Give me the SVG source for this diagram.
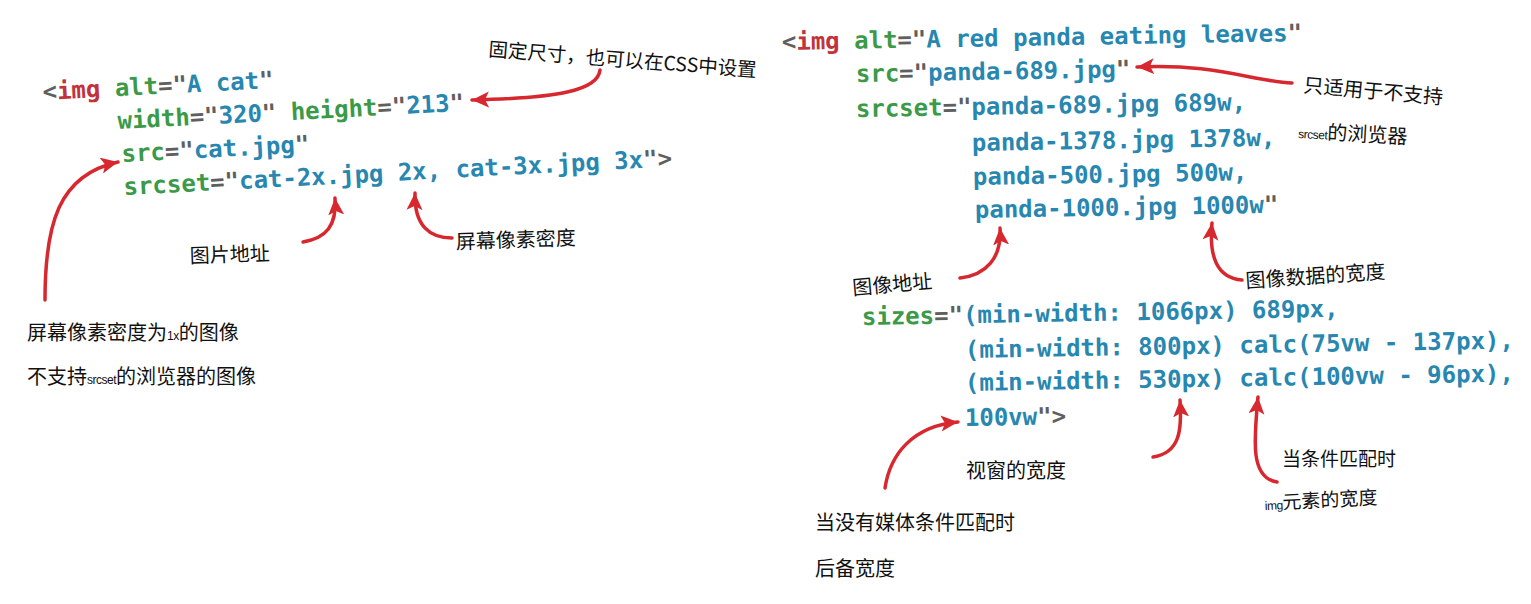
<svg xmlns="http://www.w3.org/2000/svg" width="1531" height="604" viewBox="0 0 1531 604">
<defs>
<style>
.code{font-family:"DejaVu Sans Mono","Liberation Mono",monospace;font-weight:bold;font-size:24px;}
.g{fill:#5f5f5f}.r{fill:#c2323a}.gr{fill:#3b9a48}.b{fill:#2787b0}
.lbl{font-family:"Noto Sans CJK SC","Noto Sans",sans-serif;font-size:20px;fill:#111;}
.sm{font-family:"Liberation Sans Narrow","Liberation Sans",sans-serif;font-size:12px;letter-spacing:-0.5px;}
.arrow{fill:none;stroke:#d6282e;stroke-width:3.5;stroke-linecap:round;marker-end:url(#ah);}
</style>
<marker id="ah" markerUnits="userSpaceOnUse" markerWidth="20" markerHeight="18" refX="17" refY="8" orient="auto">
<path d="M0,0 L17,8 L0,16 L4,8 Z" fill="#d6282e"/>
</marker>
</defs>
<rect width="1531" height="604" fill="#ffffff"/>

<g id="code-cat" class="code">
<text x="43" y="100" transform="rotate(-3 43 100)"><tspan class="g">&lt;</tspan><tspan class="r">img</tspan> <tspan class="gr">alt</tspan><tspan class="g">="</tspan><tspan class="b">A cat</tspan><tspan class="g">"</tspan></text>
<text x="118" y="129" transform="rotate(-3 118 129)"><tspan class="gr">width</tspan><tspan class="g">="</tspan><tspan class="b">320</tspan><tspan class="g">"</tspan> <tspan class="gr">height</tspan><tspan class="g">="</tspan><tspan class="b">213</tspan><tspan class="g">"</tspan></text>
<text x="122" y="162" transform="rotate(-3 122 162)"><tspan class="gr">src</tspan><tspan class="g">="</tspan><tspan class="b">cat.jpg</tspan><tspan class="g">"</tspan></text>
<text x="124" y="195" transform="rotate(-3 124 195)"><tspan class="gr">srcset</tspan><tspan class="g">="</tspan><tspan class="b">cat-2x.jpg 2x, cat-3x.jpg 3x</tspan><tspan class="g">"&gt;</tspan></text>
</g>

<g id="code-panda" class="code">
<text x="782" y="50" transform="rotate(-1 782 50)"><tspan class="g">&lt;</tspan><tspan class="r">img</tspan> <tspan class="gr">alt</tspan><tspan class="g">="</tspan><tspan class="b">A red panda eating leaves</tspan><tspan class="g">"</tspan></text>
<text x="856" y="82" transform="rotate(-1 856 82)"><tspan class="gr">src</tspan><tspan class="g">="</tspan><tspan class="b">panda-689.jpg</tspan><tspan class="g">"</tspan></text>
<text x="856" y="117" transform="rotate(-1 856 117)"><tspan class="gr">srcset</tspan><tspan class="g">="</tspan><tspan class="b">panda-689.jpg 689w,</tspan></text>
<text x="972" y="151" transform="rotate(-1 972 151)" class="b">panda-1378.jpg 1378w,</text>
<text x="973" y="185" transform="rotate(-1 973 185)" class="b">panda-500.jpg 500w,</text>
<text x="975" y="218" transform="rotate(-1 975 218)"><tspan class="b">panda-1000.jpg 1000w</tspan><tspan class="g">"</tspan></text>
<text x="862" y="325" transform="rotate(-1 862 325)"><tspan class="gr">sizes</tspan><tspan class="g">="</tspan><tspan class="b">(min-width: 1066px) 689px,</tspan></text>
<text x="965" y="358" transform="rotate(-1 965 358)" class="b">(min-width: 800px) calc(75vw - 137px),</text>
<text x="965" y="391" transform="rotate(-1 965 391)" class="b">(min-width: 530px) calc(100vw - 96px),</text>
<text x="965" y="426" transform="rotate(-1 965 426)"><tspan class="b">100vw</tspan><tspan class="g">"&gt;</tspan></text>
</g>

<g id="label-fixed-size" class="lbl"><text x="488" y="56" font-size="19.5" transform="rotate(4.5 488 56)">固定尺寸，也可以在CSS中设置</text></g>
<g id="label-img-url" class="lbl"><text x="190" y="263" transform="rotate(-2 190 263)">图片地址</text></g>
<g id="label-density" class="lbl"><text x="456" y="249" transform="rotate(-2 456 249)">屏幕像素密度</text></g>
<g id="label-fallback-1x" class="lbl">
<text x="27" y="340">屏幕像素密度为<tspan class="sm">1x</tspan>的图像</text>
<text x="27" y="384">不支持<tspan class="sm">srcset</tspan>的浏览器的图像</text>
</g>
<g id="label-src-only" class="lbl">
<text x="1303" y="92" transform="rotate(5 1303 92)">只适用于不支持</text>
<text x="1298" y="138" transform="rotate(3 1298 138)"><tspan class="sm">srcset</tspan>的浏览器</text>
</g>
<g id="label-image-url" class="lbl"><text x="853" y="295" transform="rotate(-5 853 295)">图像地址</text></g>
<g id="label-image-width" class="lbl"><text x="1246" y="288" transform="rotate(-4 1246 288)">图像数据的宽度</text></g>
<g id="label-viewport" class="lbl"><text x="966" y="478">视窗的宽度</text></g>
<g id="label-condition" class="lbl">
<text x="1282" y="466" font-size="19">当条件匹配时</text>
<text x="1265" y="510" font-size="19" transform="rotate(-3 1265 510)"><tspan class="sm">img</tspan>元素的宽度</text>
</g>
<g id="label-default" class="lbl">
<text x="815" y="530">当没有媒体条件匹配时</text>
<text x="815" y="576">后备宽度</text>
</g>

<g id="connectors">
<path class="arrow" d="M600,70 C598,90 560,98 472,100"/>
<path class="arrow" d="M45,300 C45,225 58,175 118,162"/>
<path class="arrow" d="M303,242 C326,238 337,226 335,198"/>
<path class="arrow" d="M452,238 C430,238 414,226 415,193"/>
<path class="arrow" d="M1292,83 C1255,82 1215,63 1137,67"/>
<path class="arrow" d="M960,278 C986,275 1002,258 1000,228"/>
<path class="arrow" d="M1242,280 C1216,278 1209,255 1212,223"/>
<path class="arrow" d="M885,488 C890,455 912,426 958,422"/>
<path class="arrow" d="M1153,457 C1180,453 1182,430 1180,400"/>
<path class="arrow" d="M1277,482 C1250,478 1254,440 1258,397"/>
</g>
</svg>
